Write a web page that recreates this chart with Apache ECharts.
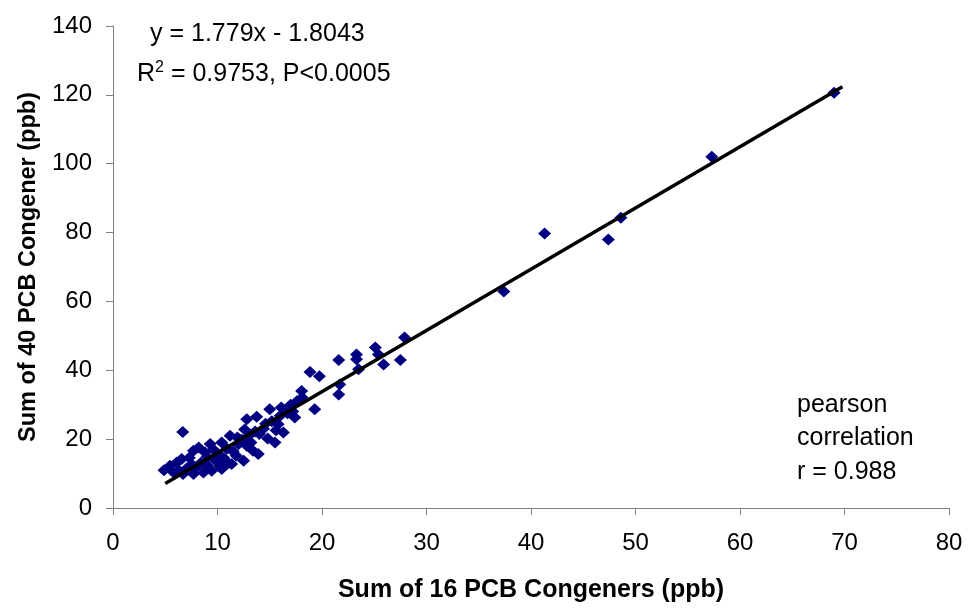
<!DOCTYPE html>
<html>
<head>
<meta charset="utf-8">
<script src="https://cdn.jsdelivr.net/npm/echarts@6/dist/echarts.min.js"></script>
<style>html,body{margin:0;padding:0;background:#fff}#c{width:968px;height:608px}</style>
</head>
<body>
<div id="c"></div>
<script>
var xTicks = [0, 10, 20, 30, 40, 50, 60, 70, 80];
var yTicks = [0, 20, 40, 60, 80, 100, 120, 140];
var sum16 = [69.0,57.3,48.6,47.4,41.3,37.4,27.9,27.5,25.1,25.4,25.9,23.3,23.3,23.5,21.6,21.7,21.6,18.85,19.75,19.3,18.05,18.1,17.6,17.2,17.4,16.1,15.0,16.3,15.8,15.5,14.4,13.75,12.8,14.0,13.4,13.9,12.8,11.8,12.5,11.35,10.4,9.45,8.65,7.7,6.7,5.8,4.88,5.45,6.1,6.57,6.67,7.7,8.2,9.3,10.4,11.2,11.9,12.0,10.9,10.0,9.0,8.4,7.6,7.1,9.8,10.6,11.5,12.3,13.0,13.6,14.6,15.2,16.0,16.7,17.0,14.8,13.2,8.0,9.0,10.2,11.0,6.3,7.3,8.8,9.6,12.6,15.6];
var sum40 = [120.6,102.0,84.3,78.0,79.7,62.9,49.5,43.0,46.6,44.6,41.7,44.6,43.2,40.3,43.0,35.9,33.0,39.5,38.3,28.7,34.0,32.1,31.0,28.0,26.3,29.2,28.7,21.9,24.3,19.0,23.0,26.5,25.8,21.5,16.6,15.7,18.1,15.2,13.7,12.75,11.3,10.8,10.3,9.9,9.9,10.3,11.0,12.3,13.2,14.2,22.1,16.6,17.6,18.6,19.0,21.0,20.5,18.5,17.2,15.8,14.9,13.1,12.5,11.6,13.8,14.5,16.4,19.8,21.0,22.2,24.5,25.2,26.8,27.5,30.0,20.2,19.0,12.0,12.5,12.2,13.0,11.0,14.6,16.2,17.0,22.8,22.6];
var slope = 1.779, intercept = -1.8043;
var fitRange = [5.0, 69.8];

var pts = sum16.map(function (x, i) { return [x, sum40[i]]; });
var fit = fitRange.map(function (x) { return [x, slope * x + intercept]; });

var FONT = 'Liberation Sans, Arial, sans-serif';
var chart = echarts.init(document.getElementById('c'));
var axisCommon = {
  axisLine: { show: true, onZero: false, lineStyle: { color: '#808080', width: 1 } },
  axisTick: { show: true, length: 7, lineStyle: { color: '#808080' } },
  splitLine: { show: false },
  axisLabel: { color: '#000', fontFamily: FONT, fontSize: 24 },
  nameTextStyle: { color: '#000', fontFamily: FONT, fontSize: 24, fontWeight: 'bold' },
  nameLocation: 'middle'
};
chart.setOption({
  animation: false,
  grid: { left: 113, right: 19, top: 26, bottom: 99 },
  xAxis: Object.assign({}, axisCommon, {
    type: 'value', min: xTicks[0], max: xTicks[xTicks.length - 1], interval: 10,
    name: 'Sum of 16 PCB Congeners (ppb)', nameGap: 70,
    axisLabel: Object.assign({}, axisCommon.axisLabel, { margin: 23 }),
    nameTextStyle: Object.assign({}, axisCommon.nameTextStyle, { fontSize: 25 })
  }),
  yAxis: Object.assign({}, axisCommon, {
    type: 'value', min: yTicks[0], max: yTicks[yTicks.length - 1], interval: 20,
    name: 'Sum of 40 PCB Congener (ppb)', nameGap: 72,
    axisLabel: Object.assign({}, axisCommon.axisLabel, { margin: 21 }),
    nameTextStyle: Object.assign({}, axisCommon.nameTextStyle, { fontSize: 23.5 })
  }),
  series: [
    {
      type: 'scatter', data: pts, symbol: 'diamond', symbolSize: [13, 12],
      itemStyle: { color: '#000080', opacity: 1 }, z: 2
    },
    {
      type: 'line', data: fit, symbol: 'none',
      lineStyle: { color: '#000', width: 3.5 }, z: 3
    }
  ],
  graphic: [
    { type: 'text', left: 150, top: 22, style: { text: 'y = 1.779x - 1.8043', fontFamily: FONT, fontSize: 25, fill: '#000' } },
    { type: 'text', left: 137, top: 60, style: {
      text: 'R{sup|2} = 0.9753, P<0.0005', fontFamily: FONT, fontSize: 25, fill: '#000',
      rich: { sup: { fontSize: 16, verticalAlign: 'top', padding: [0, 0, 12, 0], fontFamily: FONT, fill: '#000' } }
    } },
    { type: 'text', left: 797, top: 388, style: { text: 'pearson\ncorrelation\nr = 0.988', fontFamily: FONT, fontSize: 25, lineHeight: 33.5, fill: '#000' } }
  ]
});
</script>
</body>
</html>
